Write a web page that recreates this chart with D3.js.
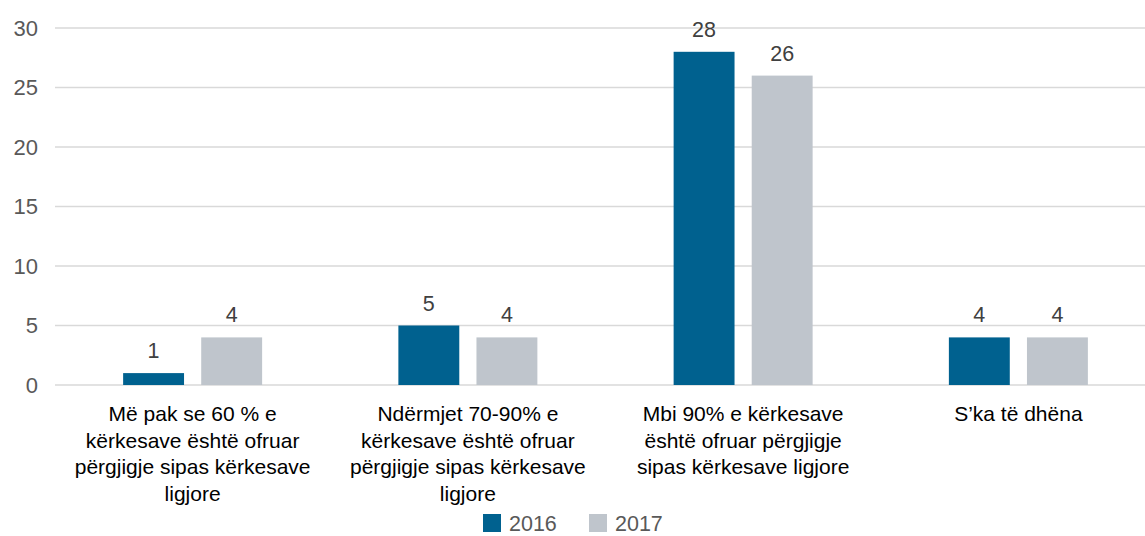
<!DOCTYPE html>
<html>
<head>
<meta charset="utf-8">
<script src="https://cdn.jsdelivr.net/npm/d3@7"></script>
<style>
  body { margin: 0; background: #fff; }
  svg { font-family: "Liberation Sans", Arial, sans-serif; display: block; }
</style>
</head>
<body>
<div class="chart"></div>
<script>
const categories = [
  ['Më pak se 60 % e', 'kërkesave është ofruar', 'përgjigje sipas kërkesave', 'ligjore'],
  ['Ndërmjet 70-90% e', 'kërkesave është ofruar', 'përgjigje sipas kërkesave', 'ligjore'],
  ['Mbi 90% e kërkesave', 'është ofruar përgjigje', 'sipas kërkesave ligjore'],
  ['S’ka të dhëna']
];
const seriesNames = ['2016', '2017'];
const values2016 = [1, 5, 28, 4];
const values2017 = [4, 4, 26, 4];
const yTicks = [0, 5, 10, 15, 20, 25, 30];
const colors = ['#00618f', '#bfc5cc'];

const width = 1145, height = 536;
const plot = { left: 55, right: 1156, top: 28, bottom: 385 };
const groupWidth = 139;

const svg = d3.select('.chart').append('svg')
  .attr('width', width)
  .attr('height', height);

const x = d3.scaleBand()
  .domain(d3.range(categories.length))
  .range([plot.left, plot.right]);

const xInner = d3.scaleBand()
  .domain(seriesNames)
  .range([0, groupWidth])
  .paddingInner(0.22);

const y = d3.scaleLinear()
  .domain([0, 30])
  .range([plot.bottom, plot.top]);

// grid lines
svg.append('g')
  .selectAll('line')
  .data(yTicks)
  .join('line')
  .attr('x1', plot.left)
  .attr('x2', width)
  .attr('y1', d => y(d))
  .attr('y2', d => y(d))
  .attr('stroke', '#d9d9d9')
  .attr('stroke-width', 1.3);

// y axis labels
const yAxis = d3.axisLeft(y).tickValues(yTicks).tickSize(0).tickPadding(0);
svg.append('g')
  .attr('transform', `translate(38,0)`)
  .call(yAxis)
  .call(g => g.select('.domain').remove())
  .selectAll('text')
  .attr('fill', '#595959')
  .attr('font-size', 22)
  .attr('font-family', '"Liberation Sans", Arial, sans-serif');

// bars
const series = seriesNames.map((name, i) => ({
  name,
  color: colors[i],
  values: i === 0 ? values2016 : values2017
}));

const barX = d => x(d.i) + (x.bandwidth() - groupWidth) / 2 + xInner(d.s.name);

const groups = svg.append('g')
  .selectAll('g')
  .data(series)
  .join('g')
  .attr('fill', d => d.color);

groups.selectAll('rect')
  .data(s => s.values.map((v, i) => ({ s, v, i })))
  .join('rect')
  .attr('x', barX)
  .attr('width', xInner.bandwidth())
  .attr('y', d => y(d.v))
  .attr('height', d => y(0) - y(d.v));

groups.selectAll('text')
  .data(s => s.values.map((v, i) => ({ s, v, i })))
  .join('text')
  .attr('x', d => barX(d) + xInner.bandwidth() / 2)
  .attr('y', d => y(d.v) - 15)
  .attr('text-anchor', 'middle')
  .attr('fill', '#404040')
  .attr('font-size', 21.5)
  .text(d => d.v);

// category labels
svg.append('g')
  .selectAll('text')
  .data(categories)
  .join('text')
  .attr('text-anchor', 'middle')
  .attr('font-size', 21)
  .attr('fill', '#000')
  .each(function(lines, i) {
    d3.select(this).selectAll('tspan')
      .data(lines)
      .join('tspan')
      .attr('x', x(i) + x.bandwidth() / 2)
      .attr('y', (d, j) => 421 + j * 26.5)
      .text(d => d);
  });

// legend
const legend = svg.append('g')
  .selectAll('g')
  .data(series)
  .join('g')
  .attr('transform', (d, i) => `translate(${483 + i * 106},514)`);

legend.append('rect')
  .attr('width', 18)
  .attr('height', 18)
  .attr('fill', d => d.color);

legend.append('text')
  .attr('x', 26)
  .attr('y', 17)
  .attr('fill', '#595959')
  .attr('font-size', 21.5)
  .text(d => d.name);
</script>
</body>
</html>
